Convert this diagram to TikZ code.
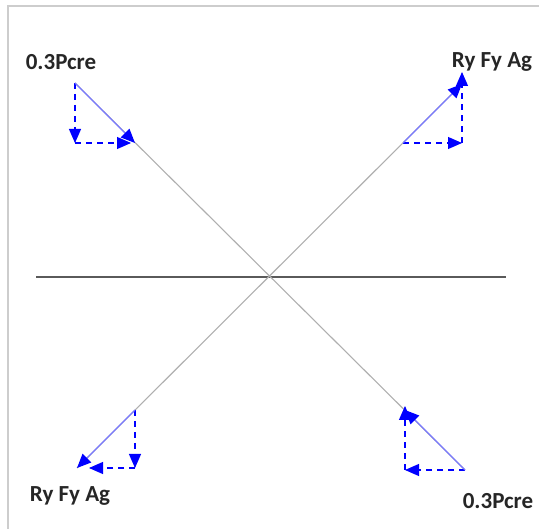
\documentclass[tikz,border=0pt]{standalone}
\usepackage{fontspec}
\setmainfont{Carlito}
\usetikzlibrary{arrows.meta}
\definecolor{frameg}{RGB}{205,205,205}
\definecolor{diag}{RGB}{175,175,175}
\definecolor{axisg}{RGB}{90,90,90}
\definecolor{vecb}{RGB}{120,120,255}
\definecolor{arrb}{RGB}{0,0,255}
\tikzset{
  bluetip/.style={-{Triangle[length=14pt,width=12pt,color=arrb,fill=arrb]}},
  vecline/.style={draw=vecb,line width=1.3pt,bluetip},
  compline/.style={draw=arrb,line width=1.1pt,dash pattern=on 6pt off 5pt,bluetip},
  diagline/.style={draw=diag,line width=1.1pt},
  axisline/.style={draw=axisg,line width=1.1pt},
  lbl/.style={font=\fontsize{23}{23}\selectfont\bfseries,text=black!85,inner sep=0pt}
}
\begin{document}
\begin{tikzpicture}[x=1pt,y=-1pt]
\useasboundingbox (0,0) rectangle (539,529);
% frame
\coordinate (fb) at (8,529);
\coordinate (fc) at (8,6);
\coordinate (fr) at (539,6);
\draw[frameg,line width=2pt] (fb) -- (fc) -- (fr);
% axis
\coordinate (hl) at (36,277);
\coordinate (hr) at (506,277);
\draw[axisline] (hl) -- (hr);
% diagonals
\coordinate (tl) at (75,83);
\coordinate (br) at (465,470);
\coordinate (bl) at (77,468);
\coordinate (tr) at (462,84);
\draw[diagline] (tl) -- (br);
\draw[diagline] (bl) -- (tr);
% top-left vector
\coordinate (tlq) at (135,143);
\coordinate (tlc) at (75,143);
\draw[compline] (tl) -- (tlc);
\draw[compline] (tlc) -- ([xshift=-4pt]tlq);
\draw[vecline] (tl) -- (tlq);
% top-right vector
\coordinate (trp) at (403,143);
\coordinate (trc) at (462,143);
\draw[compline] (trp) -- (trc);
\draw[compline] (trc) -- ([yshift=12pt]tr);
\draw[vecline] (trp) -- (tr);
% bottom-left vector
\coordinate (blp) at (135,410);
\coordinate (blc) at (135,468);
\draw[compline] (blp) -- (blc);
\draw[compline] (blc) -- ([xshift=12pt]bl);
\draw[vecline] (blp) -- (bl);
% bottom-right vector
\coordinate (brq) at (405,410);
\coordinate (brc) at (405,470);
\draw[compline] (br) -- (brc);
\draw[compline] (brc) -- ([yshift=4pt]brq);
\draw[vecline] (br) -- (brq);
% labels
\node[lbl] (l1) at (61,62) {0.3Pcre};
\node[lbl] (l2) at (492,62) {Ry Fy Ag};
\node[lbl] (l3) at (70,496) {Ry Fy Ag};
\node[lbl] (l4) at (498,501) {0.3Pcre};
\end{tikzpicture}
\end{document}
